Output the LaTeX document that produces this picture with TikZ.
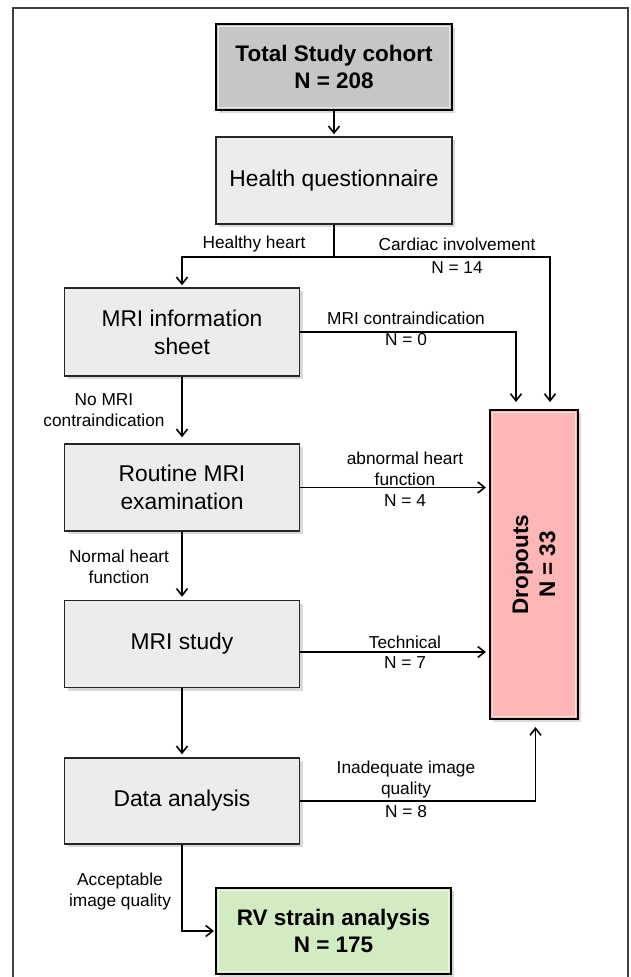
\documentclass[tikz,border=0pt]{standalone}
\usepackage{fontspec}
\setmainfont{Liberation Sans}
\usetikzlibrary{arrows.meta,shadows}
\definecolor{cohortgray}{RGB}{200,197,197}
\definecolor{stepgray}{RGB}{237,235,235}
\definecolor{droppink}{RGB}{255,182,182}
\definecolor{resultgreen}{RGB}{210,235,194}

\tikzset{
  box/.style={draw=black!85, line width=1.4pt, fill=stepgray,
    minimum width=235pt, minimum height=87pt, align=center,
    font=\fontsize{22.8}{28}\selectfont,
    drop shadow={shadow xshift=3pt,shadow yshift=-3pt,opacity=0.3}},
  keybox/.style={box, draw=black, line width=2pt,
    font=\fontsize{22.5}{27}\selectfont\bfseries,
    path picture={\draw[white,opacity=0.6,line width=1.5pt]
      ([shift={(2.5pt,-2.5pt)}]path picture bounding box.north west) rectangle
      ([shift={(-2.5pt,2.5pt)}]path picture bounding box.south east);}},
  lbl/.style={align=center, font=\fontsize{17.3}{21}\selectfont, inner sep=1pt},
  flow/.style={line width=1.6pt, -{Straight Barb[length=7pt,width=11pt,line width=1.6pt]}, shorten >=2pt},
  link/.style={line width=1.6pt}
}

\begin{document}
\begin{tikzpicture}[x=1pt,y=-1pt]
  \useasboundingbox (0,0) rectangle (631,977);
  % frame
  \draw[black!75, line width=1.2pt] (13,985) -- (13,8) -- (628,8) -- (628,985);

  % boxes
  \node[keybox, fill=cohortgray, minimum width=236pt, minimum height=86pt] (total) at (334,67) {Total Study cohort\\N = 208};
  \node[box, minimum width=236pt] (health) at (334,180.5) {Health questionnaire};
  \node[box, minimum height=88pt] (info) at (182,332) {MRI information\\sheet};
  \node[box] (routine) at (182,487.5) {Routine MRI\\examination};
  \node[box] (study) at (182,644) {MRI study};
  \node[box, minimum height=86pt] (analysis) at (182,801) {Data analysis};
  \node[keybox, fill=resultgreen, minimum height=86pt] (result) at (333.5,931) {RV strain analysis\\N = 175};
  \node[keybox, fill=droppink, minimum width=88pt, minimum height=309pt] (drop) at (534,564.5) {};
  \node[font=\fontsize{22.5}{27}\selectfont\bfseries, align=center, rotate=90] (droptext) at (drop.center) {Dropouts\\N = 33};

  % connectors
  \coordinate (split) at (334,257);
  \draw[flow] (total) -- (health);
  \draw[link] (health.south) -- (split);
  \draw[flow] (split) -| (info.north);
  \draw[flow, shorten >=7pt] (split) -| ([xshift=16pt]drop.north);
  \draw[flow, shorten >=7pt] (info.east) -| ([xshift=-18pt]drop.north);
  \draw[flow, shorten >=6pt] (info.south) -- (routine.north);
  \draw[flow, shorten >=3pt] (routine.east) -- (routine.east -| drop.west);
  \draw[flow, shorten >=3pt] (routine.south) -- (study.north);
  \draw[flow, shorten >=3pt] ([yshift=-8pt]study.east) -- ([yshift=-8pt]study.east -| drop.west);
  \draw[flow, shorten >=3pt] (study.south) -- (analysis.north);
  \draw[flow, shorten >=7pt] (analysis.east) -| ([xshift=1.5pt]drop.south);
  \draw[flow, shorten >=1pt] (analysis.south) |- (result.west);

  % labels
  \node[lbl] (lhealthy) at (254,244) {Healthy heart};
  \node[lbl] (lcardiac) at (457,244) {Cardiac involvement};
  \node[lbl] (lcardiacn) at (457,268) {N = 14};
  \node[lbl] (lcontra) at (406,318) {MRI contraindication};
  \node[lbl] (lcontran) at (406,340) {N = 0};
  \node[lbl] (lnocontra) at (104,410) {No MRI\\contraindication};
  \node[lbl] (labnormal) at (405,469) {abnormal heart\\function};
  \node[lbl] (labnormaln) at (405,501) {N = 4};
  \node[lbl] (lnormal) at (119,567) {Normal heart\\function};
  \node[lbl] (ltech) at (405,642) {Technical};
  \node[lbl] (ltechn) at (405,663) {N = 7};
  \node[lbl] (linadequate) at (406,780) {Inadequate image\\quality};
  \node[lbl] (linadequaten) at (406,812) {N = 8};
  \node[lbl] (laccept) at (120,892) {Acceptable\\image quality};
\end{tikzpicture}
\end{document}
